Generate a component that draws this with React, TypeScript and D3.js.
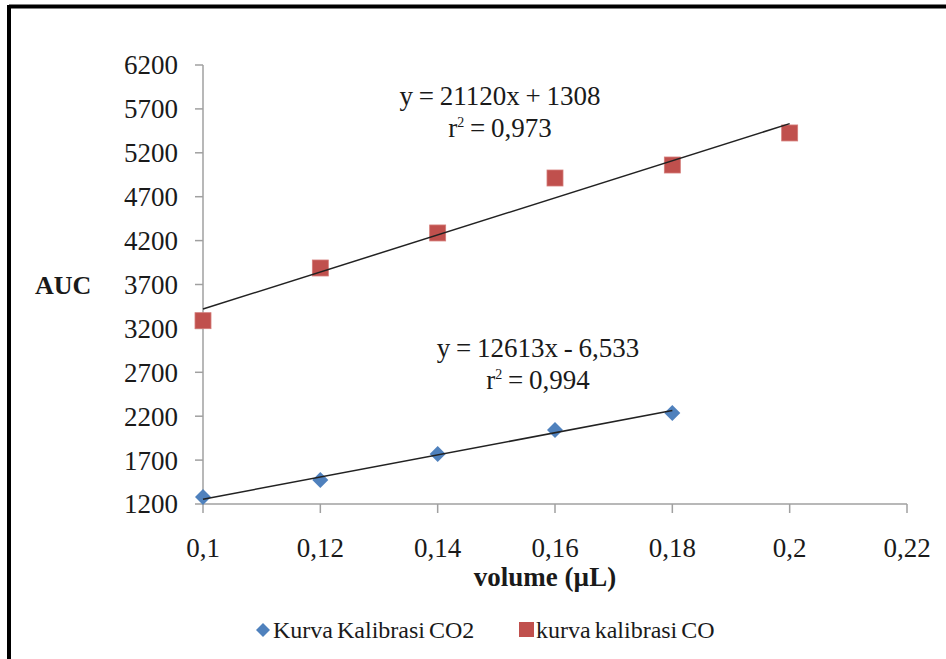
import React from "react";
import * as d3 from "d3";

const xTicks = [0.1, 0.12, 0.14, 0.16, 0.18, 0.2, 0.22];
const yTicks = [1200, 1700, 2200, 2700, 3200, 3700, 4200, 4700, 5200, 5700, 6200];

const co2X = [0.1, 0.12, 0.14, 0.16, 0.18];
const co2Y = [1280, 1473, 1770, 2043, 2236];
const coX = [0.1, 0.12, 0.14, 0.16, 0.18, 0.2];
const coY = [3288, 3888, 4287, 4913, 5061, 5426];

const co2Slope = 12613;
const co2Intercept = -6.533;
const coSlope = 21120;
const coIntercept = 1308;

const seriesNames = ["Kurva Kalibrasi CO2", "kurva kalibrasi CO"];
const eqCO = ["y = 21120x + 1308", "0,973"];
const eqCO2 = ["y = 12613x - 6,533", "0,994"];

const BLUE = "#4F81BD";
const RED = "#C0504D";
const FONT = "'Liberation Serif', 'Times New Roman', Times, serif";

export default function App() {
  const W = 946, H = 659;
  const x = d3.scaleLinear().domain([0.1, 0.22]).range([203, 907]);
  const y = d3.scaleLinear().domain([1200, 6200]).range([504, 65]);
  const fmt = (v: number) => String(+v.toFixed(2)).replace(".", ",");
  const line = d3.line<[number, number]>().x(d => x(d[0])).y(d => y(d[1]));
  const co2Trend: [number, number][] = [co2X[0], co2X[co2X.length - 1]].map(v => [v, co2Slope * v + co2Intercept]);
  const coTrend: [number, number][] = [coX[0], coX[coX.length - 1]].map(v => [v, coSlope * v + coIntercept]);
  const diamond = (cx: number, cy: number, r: number) => `M${cx},${cy - r}L${cx + r},${cy}L${cx},${cy + r}L${cx - r},${cy}Z`;
  const axisColor = "#a0a0a0";
  const tc = "#1a1a1a";

  return (
    <svg width={W} height={H} style={{ position: "absolute", left: 0, top: 0, background: "#fff", fontFamily: FONT }}>
      <rect x={0} y={0} width={W} height={H} fill="#fff" />
      {/* frame */}
      <line x1={9} y1={6.5} x2={W} y2={6.5} stroke="#000" strokeWidth={4} />
      <line x1={9} y1={5} x2={9} y2={H} stroke="#000" strokeWidth={4} />

      {/* y axis */}
      <line x1={x(0.1)} y1={y(6200)} x2={x(0.1)} y2={y(1200)} stroke={axisColor} strokeWidth={1.5} />
      {yTicks.map(t => (
        <g key={"y" + t}>
          <line x1={x(0.1) - 8} x2={x(0.1)} y1={y(t)} y2={y(t)} stroke={axisColor} strokeWidth={1.5} />
          <text x={178} y={y(t)} dy="0.35em" textAnchor="end" fontSize={27} fill={tc}>{t}</text>
        </g>
      ))}
      {/* x axis */}
      <line x1={x(0.1)} y1={y(1200)} x2={x(0.22)} y2={y(1200)} stroke={axisColor} strokeWidth={1.5} />
      {xTicks.map(t => (
        <g key={"x" + t}>
          <line x1={x(t)} x2={x(t)} y1={y(1200)} y2={y(1200) + 9} stroke={axisColor} strokeWidth={1.5} />
          <text x={x(t)} y={557} textAnchor="middle" fontSize={27} fill={tc}>{fmt(t)}</text>
        </g>
      ))}

      {/* axis titles */}
      <text x={35} y={294} fontSize={26} fontWeight="bold" fill={tc}>AUC</text>
      <text x={545} y={586} textAnchor="middle" fontSize={27} fontWeight="bold" fill={tc}>volume (µL)</text>

      {/* markers */}
      {coX.map((v, i) => (
        <rect key={"co" + i} x={x(v) - 8} y={y(coY[i]) - 8} width={16} height={16} fill={RED} stroke="#d47c79" strokeWidth={0.8} />
      ))}
      {co2X.map((v, i) => (
        <path key={"co2" + i} d={diamond(x(v), y(co2Y[i]), 8)} fill={BLUE} />
      ))}

      {/* trend lines */}
      <path d={line(coTrend) || ""} stroke="#222" strokeWidth={1.5} fill="none" />
      <path d={line(co2Trend) || ""} stroke="#222" strokeWidth={1.5} fill="none" />

      {/* equations */}
      <text x={500} y={105} textAnchor="middle" fontSize={27} fill={tc} wordSpacing={-1}>{eqCO[0]}</text>
      <text x={500} y={137} textAnchor="middle" fontSize={27} fill={tc} wordSpacing={-1}>
        r<tspan fontSize={14} dy={-10}>2</tspan><tspan dy={10}> = {eqCO[1]}</tspan>
      </text>
      <text x={538} y={357} textAnchor="middle" fontSize={27} fill={tc} wordSpacing={-1}>{eqCO2[0]}</text>
      <text x={538} y={389} textAnchor="middle" fontSize={27} fill={tc} wordSpacing={-1}>
        r<tspan fontSize={14} dy={-10}>2</tspan><tspan dy={10}> = {eqCO2[1]}</tspan>
      </text>

      {/* legend */}
      <path d={diamond(263, 630, 7)} fill={BLUE} />
      <text x={273} y={638} fontSize={24} fill={tc} wordSpacing={-2}>{seriesNames[0]}</text>
      <rect x={519} y={622} width={15} height={15} fill={RED} />
      <text x={536} y={638} fontSize={24} fill={tc} wordSpacing={-2}>{seriesNames[1]}</text>
    </svg>
  );
}
